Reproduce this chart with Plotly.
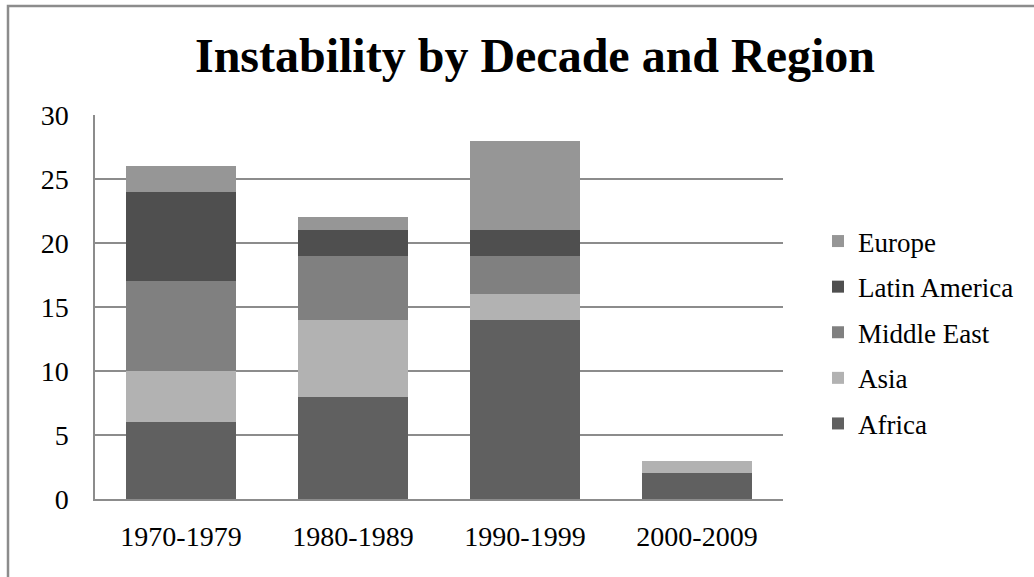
import plotly.graph_objects as go

decades = ["1970-1979", "1980-1989", "1990-1999", "2000-2009"]
africa = [6, 8, 14, 2]
asia = [4, 6, 2, 1]
middle_east = [7, 5, 3, 0]
latin_america = [7, 2, 2, 0]
europe = [2, 1, 7, 0]

series = [
    ("Africa", africa, "#606060"),
    ("Asia", asia, "#b2b2b2"),
    ("Middle East", middle_east, "#808080"),
    ("Latin America", latin_america, "#4f4f4f"),
    ("Europe", europe, "#969696"),
]

W, H = 1034, 577
L, R, T, B = 95, 251, 115, 78
PW, PH = W - L - R, H - T - B

fig = go.Figure()
for i, (name, vals, color) in enumerate(series):
    fig.add_trace(go.Bar(
        x=decades, y=vals, name=name, legendgroup=name,
        legendrank=1000 - i,  # top segment listed first
        marker=dict(color=color, line=dict(width=0)),
    ))

serif = "Liberation Serif, Times New Roman, serif"

fig.update_layout(
    width=W, height=H,
    barmode="stack",
    bargap=0.357,
    plot_bgcolor="white",
    paper_bgcolor="white",
    margin=dict(l=L, r=R, t=T, b=B, pad=0),
    font=dict(family=serif, size=28, color="black"),
    title=dict(
        text="<b>Instability by Decade and Region</b>",
        x=535 / W, xanchor="center",
        y=1 - 55 / H, yanchor="middle",
        font=dict(family=serif, size=48, color="black"),
    ),
    legend=dict(
        traceorder="grouped",
        x=(818 - L) / PW, xanchor="left",
        y=(T + PH - 217) / PH, yanchor="top",
        font=dict(family=serif, size=27),
        itemwidth=30,
        tracegroupgap=7.5,
        bgcolor="rgba(0,0,0,0)",
    ),
    xaxis=dict(
        showgrid=False,
        showline=True, linecolor="#8c8c8c", linewidth=2,
        ticks="", tickfont=dict(family=serif, size=28),
        ticklabelstandoff=11,
    ),
    yaxis=dict(
        range=[0, 30], dtick=5,
        showgrid=True, gridcolor="#8c8c8c", gridwidth=1.5,
        showline=True, linecolor="#8c8c8c", linewidth=1.5,
        ticks="outside", ticklen=0, tickcolor="white",
        tickfont=dict(family=serif, size=28),
        ticklabelstandoff=19,
        zeroline=False,
    ),
    shapes=[dict(
        type="rect", xref="paper", yref="paper",
        x0=(8 - L) / PW, x1=(W + 20 - L) / PW,
        y0=-(B + 20) / PH, y1=1 + (T - 6) / PH,
        line=dict(color="#8c8c8c", width=2.5), layer="below",
    )],
)

fig.write_html("out.html")
